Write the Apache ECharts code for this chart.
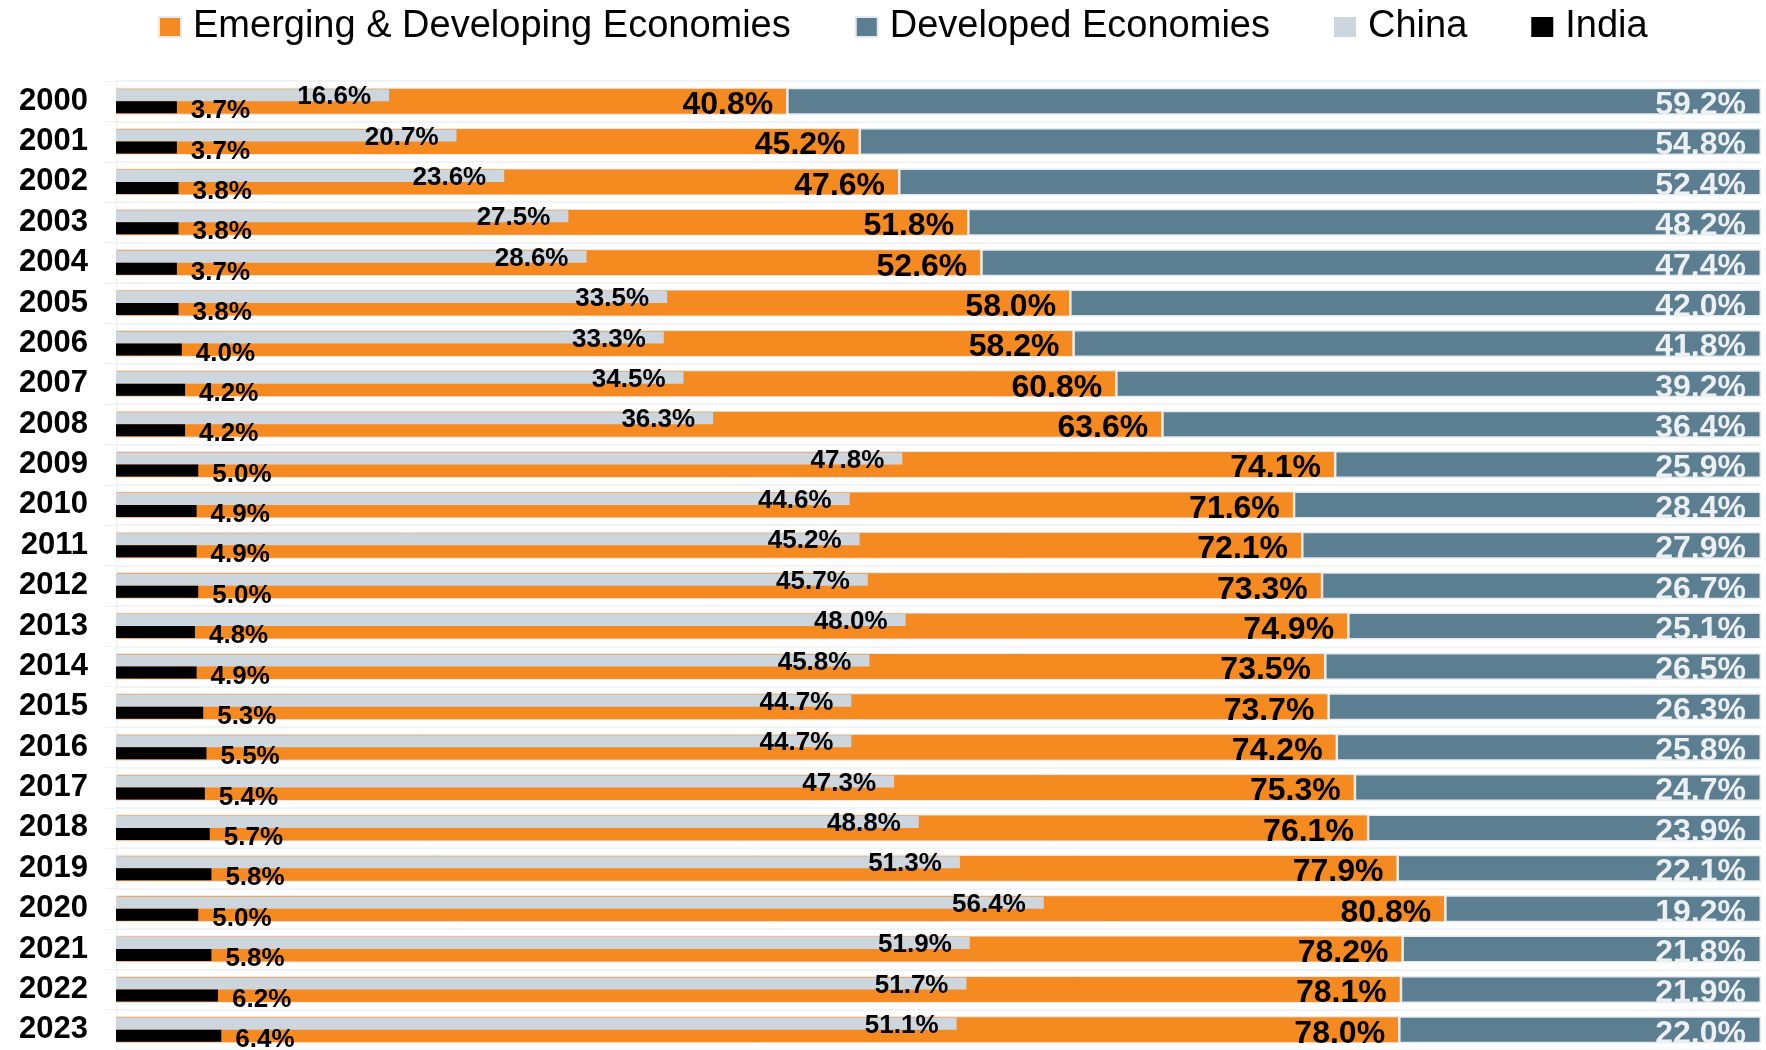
<!DOCTYPE html>
<html>
<head>
<meta charset="utf-8">
<title>Share of world growth</title>
<script src="https://cdn.jsdelivr.net/npm/echarts@6/dist/echarts.min.js"></script>
<style>
  html, body { margin: 0; padding: 0; background: #ffffff; }
  #main { width: 1766px; height: 1050px; }
</style>
</head>
<body>
<div id="main"></div>
<script>
var years = ['2000','2001','2002','2003','2004','2005','2006','2007','2008','2009','2010','2011',
             '2012','2013','2014','2015','2016','2017','2018','2019','2020','2021','2022','2023'];
var emerging = [40.8,45.2,47.6,51.8,52.6,58.0,58.2,60.8,63.6,74.1,71.6,72.1,
                73.3,74.9,73.5,73.7,74.2,75.3,76.1,77.9,80.8,78.2,78.1,78.0];
var developed = [59.2,54.8,52.4,48.2,47.4,42.0,41.8,39.2,36.4,25.9,28.4,27.9,
                 26.7,25.1,26.5,26.3,25.8,24.7,23.9,22.1,19.2,21.8,21.9,22.0];
var china = [16.6,20.7,23.6,27.5,28.6,33.5,33.3,34.5,36.3,47.8,44.6,45.2,
             45.7,48.0,45.8,44.7,44.7,47.3,48.8,51.3,56.4,51.9,51.7,51.1];
var india = [3.7,3.7,3.8,3.8,3.7,3.8,4.0,4.2,4.2,5.0,4.9,4.9,
             5.0,4.8,4.9,5.3,5.5,5.4,5.7,5.8,5.0,5.8,6.2,6.4];

function pct(p) {
  return p.value.toFixed(1) + '%';
}

function init() {
  var chart = echarts.init(document.getElementById('main'));
  var font = '"Liberation Sans", Arial, sans-serif';

  chart.setOption({
    animation: false,
    backgroundColor: '#ffffff',
    textStyle: { fontFamily: font },
    legend: {
      top: 3,
      left: 153,
      icon: 'rect',
      itemWidth: 22,
      itemHeight: 20,
      itemGap: 64,
      textStyle: { fontSize: 38, color: '#000000', fontFamily: font, padding: [0, 0, 0, 7] },
      data: ['Emerging & Developing Economies', 'Developed Economies', 'China', 'India']
    },
    grid: {
      left: 116,
      right: 5,
      top: 81,
      height: 976
    },
    xAxis: {
      type: 'value',
      min: 0,
      max: 100,
      show: false
    },
    yAxis: [
      {
        type: 'category',
        inverse: true,
        data: years,
        axisLine: { show: true, lineStyle: { color: '#eef0f2' } },
        axisTick: { show: true, length: 11, lineStyle: { color: '#eef0f2' } },
        splitLine: { show: true, lineStyle: { color: '#eceff1', width: 1.5 } },
        axisLabel: {
          fontSize: 31,
          fontWeight: 'bold',
          color: '#000000',
          margin: 28,
          padding: [2, 0, 0, 0],
          fontFamily: font
        }
      },
      {
        type: 'category',
        inverse: true,
        data: years,
        show: false
      }
    ],
    series: [
      {
        name: 'Emerging & Developing Economies',
        type: 'bar',
        stack: 'total',
        barWidth: 27,
        itemStyle: { color: '#f58a21', borderColor: '#e6eaed', borderWidth: 1 },
        label: {
          show: true,
          position: 'insideRight',
          distance: 14,
          offset: [0, 4],
          fontSize: 32,
          fontWeight: 'bold',
          color: '#000000',
          formatter: pct
        },
        data: emerging
      },
      {
        name: 'Developed Economies',
        type: 'bar',
        stack: 'total',
        barWidth: 27,
        itemStyle: { color: '#5b7e91', borderColor: '#e6eaed', borderWidth: 1.5 },
        label: {
          show: true,
          position: 'insideRight',
          distance: 15,
          offset: [0, 4],
          fontSize: 32,
          fontWeight: 'bold',
          color: '#edf0f2',
          formatter: pct
        },
        data: developed
      },
      {
        name: 'China',
        type: 'bar',
        yAxisIndex: 1,
        barWidth: 12,
        barGap: '0%',
        itemStyle: { color: '#cdd6dc' },
        label: {
          show: true,
          position: 'insideRight',
          distance: 18,
          offset: [0, 2],
          fontSize: 26,
          fontWeight: 'bold',
          color: '#000000',
          formatter: pct
        },
        data: china
      },
      {
        name: 'India',
        type: 'bar',
        yAxisIndex: 1,
        barWidth: 12,
        barGap: '0%',
        itemStyle: { color: '#000000' },
        label: {
          show: true,
          position: 'right',
          distance: 14,
          offset: [0, 4],
          fontSize: 26,
          fontWeight: 'bold',
          color: '#000000',
          formatter: pct
        },
        data: india
      }
    ]
  });

  window.addEventListener('resize', function () {
    chart.resize();
  });
}

init();
</script>
</body>
</html>
